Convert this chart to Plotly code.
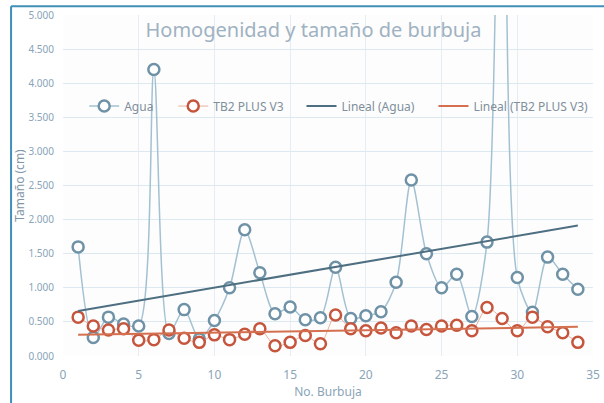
import numpy as np
import plotly.graph_objects as go

burbuja = list(range(1, 35))
agua = [1.60, 0.27, 0.57, 0.47, 0.44, 4.20, 0.33, 0.68, 0.25, 0.52,
        1.00, 1.85, 1.22, 0.62, 0.72, 0.53, 0.56, 1.30, 0.55, 0.59,
        0.65, 1.08, 2.58, 1.50, 1.00, 1.20, 0.58, 1.67, 9.80, 1.15,
        0.64, 1.45, 1.20, 0.98]
tb2 = [0.57, 0.44, 0.38, 0.40, 0.23, 0.24, 0.38, 0.26, 0.20, 0.31,
       0.24, 0.32, 0.40, 0.15, 0.20, 0.30, 0.18, 0.60, 0.40, 0.37,
       0.41, 0.34, 0.44, 0.39, 0.44, 0.45, 0.37, 0.71, 0.55, 0.37,
       0.57, 0.43, 0.34, 0.20]
y_ticks = [0, 0.5, 1, 1.5, 2, 2.5, 3, 3.5, 4, 4.5, 5]
x_ticks = [0, 5, 10, 15, 20, 25, 30, 35]

x = np.array(burbuja, dtype=float)
fa = np.polyfit(x, np.array(agua), 1)
fb = np.polyfit(x, np.array(tb2), 1)
xe = np.array([x.min(), x.max()])

fig = go.Figure()
fig.add_trace(go.Scatter(
    x=burbuja, y=agua, name="Agua", mode="lines+markers", legend="legend",
    line=dict(color="#a3c1d2", width=1.5, shape="spline", smoothing=0.8),
    marker=dict(symbol="circle", size=11, color="white",
                line=dict(color="#6f92a6", width=2.5))))
fig.add_trace(go.Scatter(
    x=burbuja, y=tb2, name="TB2 PLUS V3", mode="lines+markers", legend="legend2",
    line=dict(color="#eab09c", width=1, shape="spline", smoothing=0.8),
    marker=dict(symbol="circle", size=11, color="white",
                line=dict(color="#c6553d", width=2.5))))
fig.add_trace(go.Scatter(
    x=xe, y=np.polyval(fa, xe), name="Lineal (Agua)", mode="lines", legend="legend3",
    line=dict(color="#4e6f82", width=2)))
fig.add_trace(go.Scatter(
    x=xe, y=np.polyval(fb, xe), name="Lineal (TB2 PLUS V3)", mode="lines", legend="legend4",
    line=dict(color="#d4704f", width=2)))

leg_font = dict(family="Noto Sans", size=12, color="#7f8f9c")


def leg(xp):
    return dict(orientation="h", x=xp, y=0.733, xanchor="left", yanchor="middle",
                bgcolor="rgba(0,0,0,0)", font=leg_font)


fig.update_layout(
    width=604, height=403,
    margin=dict(l=63, r=11, t=15, b=47, autoexpand=False),
    paper_bgcolor="white", plot_bgcolor="#fdfdfd",
    font=dict(family="Noto Sans", color="#8aa4b8"),
    title=dict(text="Homogenidad y tamaño de burbuja", x=0.519, xanchor="center",
               y=0.926, yanchor="middle",
               font=dict(family="Noto Sans", size=20, color="#9fb2c2")),
    showlegend=True,
    legend=leg(0.040), legend2=leg(0.208), legend3=leg(0.450), legend4=leg(0.699),
    xaxis=dict(range=[0, 35], tickvals=x_ticks, showgrid=True, gridcolor="#e3edf3",
               zeroline=False, showline=False, ticks="", ticklabelstandoff=10,
               automargin=False, ticklabeloverflow="allow",
               tickfont=dict(family="Noto Sans", size=12, color="#8aa4b8"),
               title=dict(text="No. Burbuja", standoff=0,
                          font=dict(family="Noto Sans", size=12, color="#8aa4b8"))),
    yaxis=dict(range=[0, 5], tickvals=y_ticks, tickformat=".3f", showgrid=True,
               gridcolor="#dde9f1", zeroline=False, showline=False, ticks="",
               ticklabelstandoff=8, ticklabeloverflow="allow", automargin=False,
               tickfont=dict(family="Noto Sans", size=10, color="#8aa4b8"),
               title=dict(text="Tamaño (cm)", standoff=0,
                          font=dict(family="Noto Sans", size=12, color="#7f95a6"))),
    shapes=[
        dict(type="line", xref="paper", yref="paper", x0=-0.098, x1=1.03, y0=1.026, y1=1.026,
             line=dict(color="#3f8fb8", width=2)),
        dict(type="line", xref="paper", yref="paper", x0=-0.098, x1=-0.098, y0=1.026, y1=-0.15,
             line=dict(color="#3f8fb8", width=2)),
    ],
)
fig.write_html("out.html", config={"displayModeBar": False},
               post_script="document.body.style.margin='0';document.body.style.overflow='hidden';")
